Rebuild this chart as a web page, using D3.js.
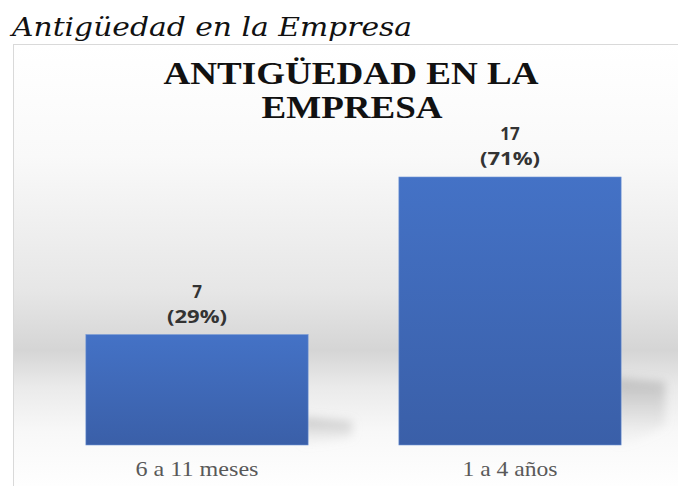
<!DOCTYPE html>
<html>
<head>
<meta charset="utf-8">
<script src="https://cdn.jsdelivr.net/npm/d3@7"></script>
<style>
  body { margin: 0; background: #fff; }
</style>
</head>
<body>
<svg id="chart" width="678" height="486"></svg>
<script>
// data
var categories = ["6 a 11 meses", "1 a 4 años"];
var counts = [7, 17];
var percents = ["29%", "71%"];

var SERIF = "Liberation Serif";
var SANS = "Open Sans";

var svg = d3.select("#chart");
var defs = svg.append("defs");

// background gradient of the chart area
var bg = defs.append("linearGradient").attr("id", "bg").attr("x1", 0).attr("y1", 0).attr("x2", 0).attr("y2", 1);
bg.append("stop").attr("offset", "0%").attr("stop-color", "#ffffff");
bg.append("stop").attr("offset", "25%").attr("stop-color", "#f9f9f9");
bg.append("stop").attr("offset", "55%").attr("stop-color", "#e6e6e6");
bg.append("stop").attr("offset", "68%").attr("stop-color", "#d5d5d5");
bg.append("stop").attr("offset", "76%").attr("stop-color", "#eaeaea");
bg.append("stop").attr("offset", "86%").attr("stop-color", "#f8f8f8");
bg.append("stop").attr("offset", "100%").attr("stop-color", "#ffffff");

var barGrad = defs.append("linearGradient").attr("id", "barGrad").attr("x1", 0).attr("y1", 0).attr("x2", 0).attr("y2", 1);
barGrad.append("stop").attr("offset", "0%").attr("stop-color", "#4472c6");
barGrad.append("stop").attr("offset", "100%").attr("stop-color", "#3a5fa8");

var shGrad = defs.append("linearGradient").attr("id", "shGrad").attr("x1", 0).attr("y1", 0).attr("x2", 0).attr("y2", 1);
shGrad.append("stop").attr("offset", "0%").attr("stop-color", "#a0a0a0").attr("stop-opacity", 0.6);
shGrad.append("stop").attr("offset", "100%").attr("stop-color", "#c8c8c8").attr("stop-opacity", 0.05);

var blur = defs.append("filter").attr("id", "shadow").attr("x", "-40%").attr("y", "-40%").attr("width", "180%").attr("height", "180%");
blur.append("feGaussianBlur").attr("stdDeviation", 5);

// caption above the chart
svg.append("text")
  .attr("font-family", "DejaVu Serif")
  .attr("font-style", "italic")
  .attr("x", 12).attr("y", 36)
  .attr("font-size", 26)
  .attr("textLength", 400)
  .attr("lengthAdjust", "spacingAndGlyphs")
  .attr("fill", "#111")
  .text("Antigüedad en la Empresa");

// chart frame
svg.append("rect")
  .attr("x", 13.5).attr("y", 44.5)
  .attr("width", 670).attr("height", 450)
  .attr("fill", "url(#bg)")
  .attr("stroke", "#d9d9d9");

// title
var title = svg.append("text")
  .attr("font-family", SERIF)
  .attr("text-anchor", "middle")
  .attr("font-weight", "bold")
  .attr("font-size", 31)
  .attr("fill", "#111");
title.append("tspan").attr("x", 351).attr("y", 84)
  .attr("textLength", 375).attr("lengthAdjust", "spacingAndGlyphs")
  .text("ANTIGÜEDAD EN LA");
title.append("tspan").attr("x", 352).attr("y", 118)
  .attr("textLength", 181).attr("lengthAdjust", "spacingAndGlyphs")
  .text("EMPRESA");

// scales
var x = d3.scaleBand()
  .domain(categories)
  .range([40.5, 666.5])
  .paddingInner(0.29)
  .paddingOuter(0.145);

var y = d3.scaleLinear()
  .domain([0, 17])
  .range([445, 177]);

var data = categories.map(function(c, i) { return { cat: c, n: counts[i], p: percents[i] }; });

// soft shadows to the right of bars
svg.append("g").selectAll("path")
  .data(data)
  .join("path")
  .attr("d", function(d) {
    var x0 = x(d.cat) + x.bandwidth() - 6, y0 = y(0), h = (y(0) - y(d.n)) * 0.25;
    return "M" + x0 + "," + (y0 - h) + " L" + (x0 + 50) + "," + (y0 - h + 4) +
      " L" + (x0 + 50) + "," + (y0 - h * 0.3) + " Q" + (x0 + 20) + "," + (y0 - 2) + " " + x0 + "," + y0 + "Z";
  })
  .attr("fill", "url(#shGrad)")
  .attr("filter", "url(#shadow)");

// bars
svg.append("g").selectAll("rect")
  .data(data)
  .join("rect")
  .attr("x", d => x(d.cat))
  .attr("y", d => y(d.n))
  .attr("width", x.bandwidth())
  .attr("height", d => y(0) - y(d.n))
  .attr("fill", "url(#barGrad)")
  .attr("stroke", "#6f93d4")
  .attr("stroke-width", 0.6);

// value labels
var lbl = svg.append("g").selectAll("text")
  .data(data)
  .join("text")
  .attr("text-anchor", "middle")
  .attr("font-family", SANS)
  .attr("font-weight", "bold")
  .attr("font-size", 17)
  .attr("fill", "#333");
lbl.append("tspan")
  .attr("x", d => x(d.cat) + x.bandwidth() / 2)
  .attr("y", d => y(d.n) - 37)
  .text(d => d.n);
lbl.append("tspan")
  .attr("x", d => x(d.cat) + x.bandwidth() / 2)
  .attr("y", d => y(d.n) - 12)
  .attr("textLength", 60)
  .attr("lengthAdjust", "spacingAndGlyphs")
  .text(d => "(" + d.p + ")");

// category axis
var axis = svg.append("g")
  .attr("transform", "translate(0,445)")
  .call(d3.axisBottom(x).tickSize(0).tickPadding(15));
axis.select(".domain").remove();
axis.attr("font-family", SERIF);
axis.selectAll("text")
  .attr("font-family", SERIF)
  .attr("font-size", 22)
  .attr("dy", "0.71em")
  .attr("fill", "#595959")
  .attr("textLength", (d, i) => [123, 95][i])
  .attr("lengthAdjust", "spacingAndGlyphs");
</script>
</body>
</html>
